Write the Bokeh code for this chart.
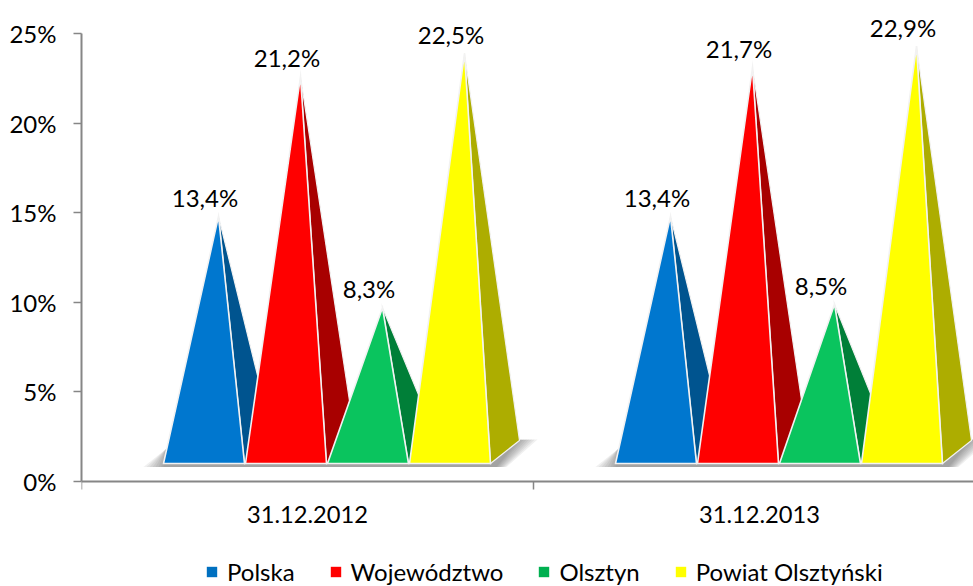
from bokeh.plotting import figure
from bokeh.embed import file_html
from bokeh.resources import INLINE
from bokeh.models import Range1d, FixedTicker, Legend, LegendItem, ColumnDataSource, LinearAxis
from bokeh.core.properties import value

categories = ["31.12.2012", "31.12.2013"]
series = ["Polska", "Województwo", "Olsztyn", "Powiat Olsztyński"]
polska = [13.4, 13.4]
wojewodztwo = [21.2, 21.7]
olsztyn = [8.3, 8.5]
powiat = [22.5, 22.9]
y_ticks = [0, 5, 10, 15, 20, 25]

front_colors = ["#0077CF", "#FF0000", "#0AC45E", "#FFFF00"]
side_colors = ["#00548F", "#A80000", "#007F38", "#ADAD00"]
legend_colors = ["#0070C0", "#FF0000", "#00B050", "#FFFF00"]
FONT = "Lato"

W, H = 973, 586
PX_X = 452.0            # pixels per category
PX_Y = 448.0 / 25       # pixels per percent
LEFT, ZERO = 81, 481    # frame left and the pixel row of 0% inside the figure

p = figure(width=W, height=H, output_backend="svg", toolbar_location=None,
           x_range=Range1d(0, (W - LEFT) / PX_X),
           y_range=Range1d(-(H - ZERO) / PX_Y, ZERO / PX_Y),
           x_axis_location=None,
           min_border_left=LEFT, min_border_right=0, min_border_top=0,
           min_border_bottom=0, outline_line_color=None,
           background_fill_color="white", border_fill_color="white")
p.grid.visible = False

# axes
xa = LinearAxis(fixed_location=0)
p.add_layout(xa, "below")
ya = p.yaxis[0]
xa.bounds = (0, 2.2)
xa.ticker = FixedTicker(ticks=[0.5, 1.5], minor_ticks=[0, 1, 2])
xa.major_label_overrides = {0.5: categories[0], 1.5: categories[1]}
xa.major_tick_out = 0
xa.major_tick_in = 0
xa.minor_tick_out = 8
xa.minor_tick_in = 0
xa.minor_tick_line_color = "#868686"
xa.minor_tick_line_width = 1.5
xa.major_label_standoff = 16
ya.bounds = (0, 25)
ya.ticker = FixedTicker(ticks=y_ticks)
ya.major_label_overrides = {t: f"{t}%" for t in y_ticks}
ya.minor_tick_line_color = None
ya.major_tick_out = 8
ya.major_tick_in = 0
ya.major_label_standoff = 17
for a in (xa, ya):
    a.axis_line_color = "#868686"
    a.axis_line_width = 2
    a.major_tick_line_color = "#868686"
    a.major_tick_line_width = 1.5
    a.major_label_text_font = FONT
    a.major_label_text_font_size = "24px"
    a.major_label_text_color = "#000000"
xa.major_label_text_font_size = "23.7px"

# layout of one group, in axis units
base_y = 18.0 / PX_Y
apex_lift = 25.0 / PX_Y
group_start = 82.0 / PX_X
base_w = 81.0 / PX_X
step = 82.0 / PX_X
apex_dx = 55.0 / PX_X
back_dx = 29.0 / PX_X
back_dy = 23.0 / PX_Y

# floor shadow: stacked translucent layers make the soft edge
for g in range(2):
    x0 = g + group_start
    x1 = x0 + 3 * step + base_w
    for t in [1.0, 0.85, 0.7, 0.55, 0.4, 0.25, 0.12, 0.0]:
        xs = [x0 - 20 * t / PX_X, x0 + 2 / PX_X, x1 + (back_dx * PX_X + 18 * t) / PX_X,
              x1 + (6 + 10 * t) / PX_X, x0]
        ys = [base_y - 3.5 / PX_Y, base_y + 14 / PX_Y, base_y + (back_dy * PX_Y + 1) / PX_Y,
              base_y - 3.5 / PX_Y, base_y - 3.5 / PX_Y]
        p.patch(xs, ys, fill_color="#555555", fill_alpha=0.09, line_color=None)

# pyramids
values = [polska, wojewodztwo, olsztyn, powiat]
for g in range(2):
    for s, vals in enumerate(values):
        left = g + group_start + s * step
        right = left + base_w
        apex_x = left + apex_dx
        apex_y = vals[g] + apex_lift
        p.patch([apex_x, right, right + back_dx], [apex_y, base_y, base_y + back_dy],
                fill_color=side_colors[s], line_color="#F2F2F2", line_width=1.2,
                line_join="miter")
        p.patch([left, right, apex_x], [base_y, base_y, apex_y],
                fill_color=front_colors[s], line_color="#F2F2F2", line_width=1.6,
                line_join="miter")

# data labels
lx, ly, lt = [], [], []
for g in range(2):
    for s, vals in enumerate(values):
        lx.append(g + group_start + s * step + base_w / 2)
        ly.append(vals[g])
        lt.append(f"{vals[g]:.1f}".replace(".", ",") + "%")
p.text(x="x", y="y", text="t", source=ColumnDataSource(dict(x=lx, y=ly, t=lt)),
       text_align="center", text_baseline="middle", x_offset=1, y_offset=-44,
       text_font=value(FONT), text_font_size="24px", text_color="#000000")

# legend
items = []
for name, col in zip(series, legend_colors):
    r = p.quad(left=[-5], right=[-4], bottom=[-5], top=[-4], fill_color=col, line_color=None)
    items.append(LegendItem(label=name, renderers=[r]))
legend = Legend(items=items, orientation="horizontal", location=(124, 0),
                border_line_color=None, background_fill_alpha=0, label_text_font=FONT,
                label_text_font_size="24px", label_text_color="#000000",
                glyph_width=13, glyph_height=13, label_standoff=9, spacing=34,
                padding=0, margin=0)
p.add_layout(legend, "center")

open("out.html", "w").write(file_html(p, INLINE))
